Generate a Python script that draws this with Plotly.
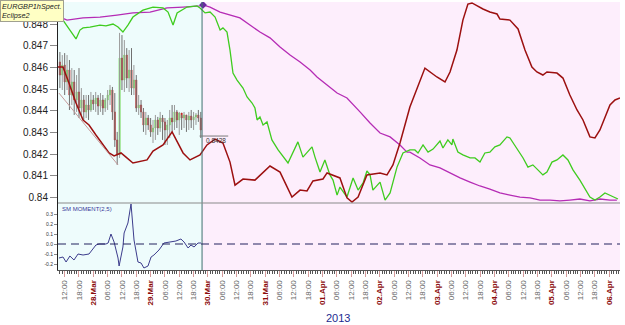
import plotly.graph_objects as go
import pandas as pd

BASE = pd.Timestamp("2013-03-28 00:00")

# ---------------- price candles (hourly, hours from 28.Mar 00:00) ----------------
candle_hours = list(range(-14, 46))
candle_open = [0.84625, 0.84565, 0.84611, 0.84533, 0.84588, 0.84473, 0.84533, 0.84450, 0.84487, 0.84413,
               0.84450, 0.84395, 0.84427, 0.84404, 0.84450, 0.84432, 0.84459, 0.84422, 0.84450, 0.84413,
               0.84450, 0.84473, 0.84496, 0.84395, 0.84266, 0.84197, 0.84643, 0.84542, 0.84657, 0.84551,
               0.84588, 0.84505, 0.84542, 0.84413, 0.84427, 0.84395, 0.84335, 0.84367, 0.84335, 0.84303,
               0.84321, 0.84358, 0.84321, 0.84367, 0.84349, 0.84312, 0.84335, 0.84367, 0.84349, 0.84395,
               0.84358, 0.84390, 0.84367, 0.84381, 0.84358, 0.84376, 0.84358, 0.84372, 0.84381, 0.84367]
candle_high = [0.84671, 0.84657, 0.84666, 0.84657, 0.84634, 0.84597, 0.84588, 0.84565, 0.84597, 0.84505,
               0.84473, 0.84473, 0.84473, 0.84487, 0.84473, 0.84487, 0.84473, 0.84482, 0.84473, 0.84459,
               0.84496, 0.84519, 0.84510, 0.84482, 0.84303, 0.84759, 0.84749, 0.84726, 0.84689, 0.84680,
               0.84689, 0.84611, 0.84565, 0.84473, 0.84450, 0.84413, 0.84395, 0.84381, 0.84367, 0.84358,
               0.84381, 0.84372, 0.84395, 0.84381, 0.84367, 0.84358, 0.84404, 0.84427, 0.84427, 0.84404,
               0.84395, 0.84381, 0.84395, 0.84381, 0.84395, 0.84404, 0.84395, 0.84390, 0.84404, 0.84395]
candle_low = [0.84505, 0.84496, 0.84473, 0.84496, 0.84404, 0.84427, 0.84381, 0.84395, 0.84367, 0.84381,
              0.84358, 0.84367, 0.84358, 0.84395, 0.84404, 0.84395, 0.84381, 0.84395, 0.84381, 0.84395,
              0.84404, 0.84427, 0.84358, 0.84234, 0.84151, 0.84183, 0.84496, 0.84487, 0.84505, 0.84487,
              0.84473, 0.84473, 0.84395, 0.84381, 0.84367, 0.84303, 0.84289, 0.84312, 0.84280, 0.84252,
              0.84266, 0.84289, 0.84303, 0.84266, 0.84243, 0.84243, 0.84275, 0.84303, 0.84312, 0.84321,
              0.84289, 0.84312, 0.84321, 0.84303, 0.84312, 0.84321, 0.84312, 0.84335, 0.84349, 0.84275]
candle_close = [0.84565, 0.84611, 0.84533, 0.84588, 0.84473, 0.84533, 0.84450, 0.84487, 0.84413, 0.84450,
                0.84395, 0.84427, 0.84404, 0.84450, 0.84432, 0.84459, 0.84422, 0.84450, 0.84413, 0.84450,
                0.84473, 0.84496, 0.84395, 0.84266, 0.84197, 0.84643, 0.84542, 0.84657, 0.84551, 0.84588,
                0.84505, 0.84542, 0.84413, 0.84427, 0.84395, 0.84335, 0.84367, 0.84335, 0.84303, 0.84321,
                0.84358, 0.84321, 0.84367, 0.84349, 0.84312, 0.84335, 0.84367, 0.84349, 0.84395, 0.84358,
                0.84390, 0.84367, 0.84381, 0.84358, 0.84376, 0.84358, 0.84372, 0.84381, 0.84367, 0.84312]

# ---------------- projection line (dark red) ----------------
red_hours = [-15.2, -12.7, -10.2, -7.25, -4.3, -1.8, 1.1, 4.1, 6.6, 8.7, 10.35, 11.6, 13.7, 16.6, 22.5, 25.0,
             29.2, 33.0, 37.6, 40.5, 44.7, 47.6, 51.0, 54.3, 57.25, 59.35, 62.7, 67.7, 74.0, 78.2, 83.2, 86.6,
             89.5, 92.0, 96.2, 97.9, 103.3, 106.25, 108.35, 110.9, 114.6, 120.1, 123.0, 125.5, 128.45, 132.6,
             138.9, 141.0, 143.9, 147.3, 149.4, 152.3, 154.8, 156.9, 158.6, 163.2, 166.1, 169.1, 170.3, 174.5,
             177.9, 180.8, 183.7, 185.8, 188.3, 190.0, 194.2, 196.7, 199.6, 202.6, 205.1, 208.0, 210.1, 212.2,
             216.4, 218.5, 220.6]
red_values = [0.84602, 0.84602, 0.84528, 0.84436, 0.84358, 0.84335, 0.84289, 0.84243, 0.84206, 0.84192,
              0.84201, 0.84206, 0.84187, 0.84160, 0.84174, 0.84215, 0.84243, 0.84303, 0.84206, 0.84174,
              0.84197, 0.84243, 0.84270, 0.84252, 0.84164, 0.84058, 0.84086, 0.84081, 0.84146, 0.84118,
              0.84003, 0.84035, 0.84031, 0.84077, 0.84086, 0.84114, 0.84091, 0.83999, 0.83980, 0.84003,
              0.84105, 0.84114, 0.84105, 0.84151, 0.84252, 0.84418, 0.84597, 0.84579, 0.84556, 0.84533,
              0.84579, 0.84680, 0.84818, 0.84892, 0.84897, 0.84869, 0.84855, 0.84846, 0.84823, 0.84818,
              0.84777, 0.84680, 0.84602, 0.84579, 0.84565, 0.84579, 0.84574, 0.84551, 0.84473, 0.84404,
              0.84358, 0.84280, 0.84275, 0.84312, 0.84427, 0.84450, 0.84459]

# ---------------- green line ----------------
green_hours = [-14.4, -12.7, -9.8, -7.25, -5.6, -4.3, -1.4, 2.8, 5.3, 8.25, 10.35, 12.4, 14.5, 16.6, 20.8, 25.0,
               29.2, 31.3, 33.4, 35.1, 39.25, 43.4, 44.7, 46.8, 48.9, 51.0, 53.1, 54.3, 56.0, 57.25, 58.5, 60.2,
               62.7, 64.4, 66.5, 67.7, 68.6, 69.8, 71.1, 72.75, 74.8, 77.4, 81.55, 83.6, 85.7, 87.8, 89.5, 91.6,
               92.85, 94.95, 97.0, 99.1, 100.4, 102.1, 103.3, 106.25, 108.8, 110.9, 113.0, 114.6, 115.9, 117.1,
               120.1, 122.2, 124.3, 127.2, 129.7, 132.6, 134.7, 136.0, 138.1, 140.2, 142.3, 145.2, 146.45, 148.5,
               150.2, 150.6, 152.7, 154.8, 157.8, 159.85, 161.95, 164.0, 166.1, 168.2, 170.3, 173.25, 174.5,
               177.4, 180.0, 182.05, 184.1, 186.2, 188.3, 190.0, 192.1, 194.2, 196.7, 198.8, 200.9, 203.8, 205.9,
               208.0, 210.1, 212.2, 214.3, 216.4, 218.5, 219.75]
green_values = [0.84855, 0.84818, 0.84772, 0.84731, 0.84772, 0.84782, 0.84786, 0.84795, 0.84791, 0.84800,
                0.84786, 0.84763, 0.84795, 0.84832, 0.84864, 0.84878, 0.84874, 0.84855, 0.84795, 0.84851,
                0.84878, 0.84883, 0.84874, 0.84851, 0.84855, 0.84832, 0.84772, 0.84782, 0.84763, 0.84680,
                0.84574, 0.84542, 0.84505, 0.84464, 0.84436, 0.84413, 0.84358, 0.84372, 0.84335, 0.84349,
                0.84266, 0.84220, 0.84160, 0.84206, 0.84257, 0.84187, 0.84210, 0.84234, 0.84187, 0.84118,
                0.84174, 0.84105, 0.84081, 0.84012, 0.84049, 0.84003, 0.84091, 0.84035, 0.84068, 0.84123,
                0.84105, 0.84035, 0.84072, 0.83989, 0.84022, 0.84141, 0.84206, 0.84220, 0.84220, 0.84206,
                0.84243, 0.84210, 0.84224, 0.84261, 0.84229, 0.84266, 0.84243, 0.84270, 0.84210, 0.84197,
                0.84183, 0.84183, 0.84164, 0.84206, 0.84210, 0.84234, 0.84243, 0.84280, 0.84275, 0.84229,
                0.84183, 0.84141, 0.84151, 0.84128, 0.84105, 0.84118, 0.84164, 0.84174, 0.84197, 0.84174,
                0.84128, 0.84081, 0.84045, 0.84003, 0.83989, 0.84003, 0.84022, 0.84012, 0.83999, 0.83994]

# ---------------- magenta line ----------------
magenta_hours = [-13.95, -11.0, -4.3, 2.8, 9.9, 16.6, 23.75, 30.9, 37.6, 44.7, 45.95, 48.9, 53.1, 57.25, 61.4,
                 65.6, 69.8, 74.0, 78.2, 82.4, 86.6, 90.8, 93.7, 97.9, 102.1, 106.25, 110.4, 111.7, 115.9,
                 120.1, 124.3, 128.45, 131.4, 132.6, 136.8, 141.0, 145.2, 149.4, 153.6, 157.8, 161.95, 166.1,
                 170.3, 174.5, 178.7, 182.9, 187.1, 191.3, 195.45, 199.6, 203.8, 208.0, 212.2, 216.4, 219.3]
magenta_values = [0.84832, 0.84818, 0.84828, 0.84832, 0.84841, 0.84851, 0.84855, 0.84874, 0.84878, 0.84883,
                  0.84888, 0.84878, 0.84855, 0.84841, 0.84828, 0.84795, 0.84763, 0.84736, 0.84694, 0.84657,
                  0.84625, 0.84588, 0.84556, 0.84519, 0.84482, 0.84459, 0.84413, 0.84395, 0.84344, 0.84298,
                  0.84280, 0.84243, 0.84210, 0.84210, 0.84183, 0.84151, 0.84137, 0.84114, 0.84091, 0.84072,
                  0.84054, 0.84040, 0.84022, 0.84012, 0.84003, 0.83999, 0.83989, 0.83989, 0.83985, 0.83989,
                  0.83994, 0.83985, 0.83994, 0.83989, 0.83989]

# ---------------- SM MOMENT(2,5) ----------------
mom_hours = [-14.4, -12.7, -11.4, -9.8, -8.1, -6.4, -4.3, -1.8, 1.1, 2.4, 5.3, 6.2, 7.4, 8.7, 10.35, 10.8,
             12.4, 12.9, 14.5, 15.8, 17.05, 18.7, 20.0, 21.2, 22.9, 24.2, 25.4, 27.5, 29.6, 32.5, 34.6, 36.7,
             38.0, 39.7, 40.9, 42.2, 43.85, 45.1]
mom_values = [-0.14, -0.13, -0.18, -0.12, -0.16, -0.10, -0.11, -0.10, -0.01, 0.0, 0.0, 0.01, 0.10, 0.02,
              -0.14, -0.22, -0.03, 0.11, 0.21, 0.40, 0.04, -0.18, -0.19, -0.24, -0.22, -0.13, -0.11, -0.06,
              0.01, 0.02, 0.03, 0.05, 0.02, -0.04, -0.01, -0.03, 0.01, 0.01]

price_ticks = [0.840, 0.841, 0.842, 0.843, 0.844, 0.845, 0.846, 0.847, 0.848]
price_tick_text = ["0.84", "0.841", "0.842", "0.843", "0.844", "0.845", "0.846", "0.847", "0.848"]
mom_ticks = [-0.2, -0.1, 0.0, 0.1, 0.2, 0.3]
mom_tick_text = ["-0.2", "-0.1", "0.0", "0.1", "0.2", "0.3"]

split_hour = 45.55          # end of history / start of projection
level_hour_span = [44.5, 56.5]
level_value = 0.84284
trend_start = (-14.4, 0.84482)
trend_end = (10.35, 0.84151)


def to_time(hours):
    return [BASE + pd.Timedelta(hours=h) for h in hours]


x_start = BASE + pd.Timedelta(hours=-14.79)
x_end = BASE + pd.Timedelta(hours=220.6)
split_t = BASE + pd.Timedelta(hours=split_hour)

tick_times = list(pd.date_range("2013-03-27 12:00", "2013-04-06 00:00", freq="6h"))
tick_text = []
for t in tick_times:
    if t.hour == 0:
        tick_text.append("<span style='color:#8b0a0a'><b>%02d.%s</b></span>" % (t.day, t.strftime("%b")))
    else:
        tick_text.append("<span style='color:#666666'>%02d:00</span>" % t.hour)

fig = go.Figure()

candle_times = to_time(candle_hours)
body_top = [max(o, c) for o, c in zip(candle_open, candle_close)]
body_bottom = [min(o, c) for o, c in zip(candle_open, candle_close)]

# wicks (high-low) in grey
fig.add_trace(go.Ohlc(
    x=candle_times, open=candle_open, high=candle_high, low=candle_low, close=candle_close,
    increasing=dict(line=dict(color="#9a9a9a", width=1)),
    decreasing=dict(line=dict(color="#707070", width=1)),
    tickwidth=0, showlegend=False, hoverinfo="skip"))
# coloured bodies
fig.add_trace(go.Candlestick(
    x=candle_times, open=candle_open, high=body_top, low=body_bottom, close=candle_close,
    increasing=dict(line=dict(color="#6ae04a", width=0.6), fillcolor="#6ae04a"),
    decreasing=dict(line=dict(color="#c62828", width=0.6), fillcolor="#c62828"),
    whiskerwidth=0, showlegend=False))

fig.add_trace(go.Scatter(x=to_time(magenta_hours), y=magenta_values, mode="lines",
                         line=dict(color="#b52cb5", width=1.3), showlegend=False))
fig.add_trace(go.Scatter(x=to_time(green_hours), y=green_values, mode="lines",
                         line=dict(color="#3fcc1f", width=1.3), showlegend=False))
fig.add_trace(go.Scatter(x=to_time(red_hours), y=red_values, mode="lines",
                         line=dict(color="#9c1010", width=1.5), showlegend=False))
fig.add_trace(go.Scatter(x=to_time([magenta_hours[10]]), y=[magenta_values[10]], mode="markers",
                         marker=dict(symbol="diamond", size=6, color="#6a2aa0"), showlegend=False))

fig.add_trace(go.Scatter(x=to_time(mom_hours), y=mom_values, mode="lines",
                         line=dict(color="#3c3c8c", width=1), showlegend=False, yaxis="y2"))

shapes = [
    dict(type="rect", xref="x", yref="paper", x0=x_start, x1=split_t, y0=0, y1=1,
         fillcolor="#eefcfc", line=dict(width=0), layer="below"),
    dict(type="rect", xref="x", yref="paper", x0=split_t, x1=x_end, y0=0, y1=1,
         fillcolor="#fdeefc", line=dict(width=0), layer="below"),
    dict(type="line", xref="x", yref="paper", x0=split_t, x1=split_t, y0=0, y1=1,
         line=dict(color="#3f6f6f", width=1)),
    dict(type="line", xref="paper", yref="paper", x0=0, x1=1, y0=0.25, y1=0.25,
         line=dict(color="#8a8a8a", width=1.2)),
    dict(type="line", xref="paper", yref="y2", x0=0, x1=1, y0=0, y1=0,
         line=dict(color="#23235e", width=1, dash="8px,5px")),
    dict(type="line", xref="x", yref="y",
         x0=BASE + pd.Timedelta(hours=level_hour_span[0]), x1=BASE + pd.Timedelta(hours=level_hour_span[1]),
         y0=level_value, y1=level_value, line=dict(color="#7a7a7a", width=1)),
    dict(type="line", xref="x", yref="y",
         x0=BASE + pd.Timedelta(hours=trend_start[0]), y0=trend_start[1],
         x1=BASE + pd.Timedelta(hours=trend_end[0]), y1=trend_end[1],
         line=dict(color="#c49a9a", width=1)),
]

annotations = [
    dict(text="<i>EURGBP1hSpect.<br>Eclipse2</i>", xref="paper", yref="paper", x=-58 / 562, y=1.0075,
         xanchor="left", yanchor="top", showarrow=False, align="left",
         font=dict(family="Arial, Liberation Sans", size=7.3, color="#222222"),
         bgcolor="#ffffc4", bordercolor="#a0a090", borderwidth=1, borderpad=1),
    dict(text="SM MOMENT(2,5)", xref="paper", yref="paper", x=0.004, y=0.247, xanchor="left", yanchor="top",
         showarrow=False, font=dict(family="Arial, Liberation Sans", size=6, color="#3a3a9a")),
    dict(text="0.8428", xref="x", yref="y", x=BASE + pd.Timedelta(hours=46.2), y=level_value,
         xanchor="left", yanchor="top", showarrow=False, yshift=1,
         font=dict(family="Arial, Liberation Sans", size=6.5, color="#333333")),
    dict(text="2013", xref="paper", yref="paper", x=0.498, y=-0.18, xanchor="center", yanchor="middle",
         showarrow=False, font=dict(family="Arial, Liberation Sans", size=11, color="#1c2a90")),
]

fig.update_layout(
    width=625, height=325,
    margin=dict(l=58, r=5, t=2, b=55),
    paper_bgcolor="white", plot_bgcolor="white",
    showlegend=False,
    shapes=shapes, annotations=annotations,
    xaxis=dict(type="date", range=[x_start, x_end], anchor="y2",
               rangeslider=dict(visible=False),
               tickmode="array", tickvals=tick_times, ticktext=tick_text, tickangle=-90,
               tickfont=dict(family="Arial, Liberation Sans", size=8),
               ticks="outside", ticklen=6, tickcolor="#d39a9a",
               minor=dict(dtick=3600000, tick0="2013-03-28", ticks="outside", ticklen=3, tickcolor="#555555"),
               showline=True, linecolor="#555555", linewidth=1, showgrid=False, zeroline=False),
    yaxis=dict(domain=[0.25, 1], range=[0.839756, 0.849013], anchor="x",
               tickmode="array", tickvals=price_ticks, ticktext=price_tick_text,
               tickfont=dict(family="Arial, Liberation Sans", size=10, color="#222222"),
               ticks="outside", ticklen=7, tickcolor="#8a8a8a",
               showline=True, linecolor="#222222", linewidth=1, showgrid=False, zeroline=False),
    yaxis2=dict(domain=[0, 0.25], range=[-0.26, 0.41], anchor="x",
                tickmode="array", tickvals=mom_ticks, ticktext=mom_tick_text,
                tickfont=dict(family="Arial, Liberation Sans", size=5, color="#333333"),
                ticks="outside", ticklen=3, tickcolor="#8a8a8a",
                showline=True, linecolor="#222222", linewidth=1, showgrid=False, zeroline=False),
)

fig.write_html("out.html")
